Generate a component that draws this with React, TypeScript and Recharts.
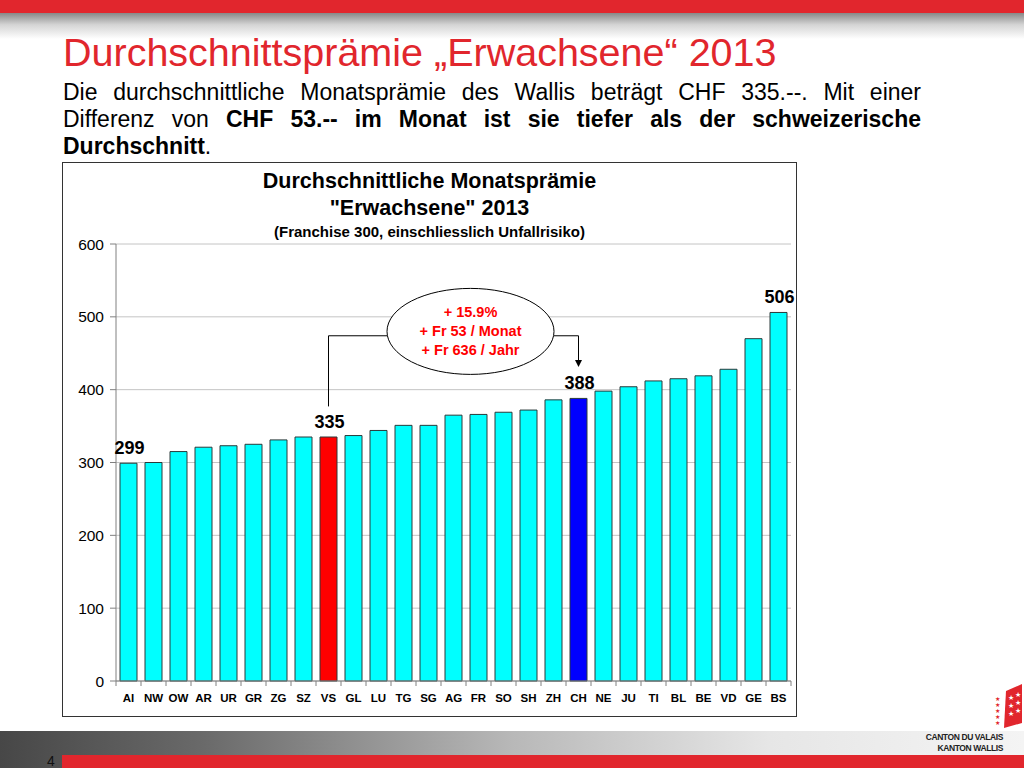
import React from "react";
import {
  BarChart,
  Bar,
  Cell,
  XAxis,
  YAxis,
  CartesianGrid,
  LabelList,
  ReferenceLine,
  ReferenceDot,
} from "recharts";

const cantons = [
  "AI", "NW", "OW", "AR", "UR", "GR", "ZG", "SZ", "VS", "GL", "LU", "TG", "SG", "AG",
  "FR", "SO", "SH", "ZH", "CH", "NE", "JU", "TI", "BL", "BE", "VD", "GE", "BS",
];
const premiums = [
  299, 300, 315, 321, 323, 325, 331, 335, 335, 337, 344, 351, 351, 365,
  366, 369, 372, 386, 388, 398, 404, 412, 415, 419, 428, 470, 506,
];
const yTicks = [0, 100, 200, 300, 400, 500, 600];
const labelledCantons = ["AI", "VS", "CH", "BS"];
const barColors: Record<string, string> = { VS: "#ff0000", CH: "#0000ff" };
const calloutLines = ["+ 15.9%", "+ Fr 53 / Monat", "+ Fr 636 / Jahr"];

const data = cantons.map((canton, i) => ({ canton, value: premiums[i] }));

const FONT = '"Liberation Sans", Arial, Helvetica, sans-serif';
const RED = "#e1262d";

const XTick = (props: any) => {
  const { x, y, payload, index } = props;
  const half = 12.5;
  return (
    <g>
      <line x1={x - half} y1={y} x2={x - half} y2={y + 5} stroke="#808080" />
      {index === cantons.length - 1 && (
        <line x1={x + half} y1={y} x2={x + half} y2={y + 5} stroke="#808080" />
      )}
      <text x={x} y={y + 21} textAnchor="middle" fontSize={11.5} fontWeight="bold" fill="#000" fontFamily={FONT}>
        {payload.value}
      </text>
    </g>
  );
};

const ValueLabel = (props: any) => {
  const { x, y, width, value, index } = props;
  if (!labelledCantons.includes(cantons[index])) return null;
  return (
    <text x={x + width / 2 + 1} y={y - 9} textAnchor="middle" fontSize={18} fontWeight="bold" fill="#000" fontFamily={FONT}>
      {value}
    </text>
  );
};

const Callout = (props: any) => {
  const { cx, cy } = props;
  const x = cx - 8;
  return (
    <g>
      <ellipse cx={x} cy={cy} rx={83.5} ry={43} fill="#fff" stroke="#000" strokeWidth={1} />
      {calloutLines.map((t, i) => (
        <text key={t} x={x} y={cy - 14 + i * 19} textAnchor="middle" fontSize={14.5} fontWeight="bold" fill="#ff0000" fontFamily={FONT}>
          {t}
        </text>
      ))}
    </g>
  );
};

const Arrow = (props: any) => {
  const { cx, cy } = props;
  return <polygon points={`${cx - 3.5},${cy - 7} ${cx + 3.5},${cy - 7} ${cx},${cy}`} fill="#000" />;
};

const Logo = () => (
  <svg width={104} height={80} style={{ position: "absolute", left: 920, top: 680 }}>
    <polygon points="86,11 102,4 102,43 84,48" fill={RED} />
    {[0, 1, 2].map((r) => (
      <g key={r}>
        <text x={91} y={20 + r * 8} fontSize={7} fill="#fff" textAnchor="middle">★</text>
        <text x={98} y={17 + r * 8} fontSize={7} fill="#fff" textAnchor="middle">★</text>
      </g>
    ))}
    {[0, 1, 2, 3, 4].map((r) => (
      <text key={r} x={77} y={21 + r * 6} fontSize={6} fill={RED} textAnchor="middle">★</text>
    ))}
    <text x={83} y={60} textAnchor="end" fontSize={8.5} fontWeight="bold" fill="#222" fontFamily={FONT} style={{ letterSpacing: -0.4 }}>
      CANTON DU VALAIS
    </text>
    <text x={83} y={71} textAnchor="end" fontSize={8.5} fontWeight="bold" fill="#222" fontFamily={FONT} style={{ letterSpacing: -0.4 }}>
      KANTON WALLIS
    </text>
  </svg>
);

export default function App() {
  const lineStyle: React.CSSProperties = {
    position: "absolute",
    left: 63,
    width: 858,
    fontSize: 23,
    lineHeight: "27px",
    color: "#000",
    whiteSpace: "nowrap",
  };
  return (
    <div
      style={{
        position: "absolute",
        left: 0,
        top: 0,
        width: 1024,
        height: 768,
        background: "#fff",
        overflow: "hidden",
        fontFamily: FONT,
      }}
    >
      <div style={{ position: "absolute", left: 0, top: 0, width: 1024, height: 13, background: RED }} />
      <div
        style={{
          position: "absolute",
          left: 0,
          top: 13,
          width: 1024,
          height: 26,
          background: "linear-gradient(to bottom, #888888, #d4d4d4 45%, #ffffff)",
        }}
      />
      <div style={{ position: "absolute", left: 63, top: 32, fontSize: 39.5, lineHeight: "40px", color: RED, whiteSpace: "nowrap" }}>
        Durchschnittsprämie „Erwachsene“ 2013
      </div>
      <div style={{ ...lineStyle, top: 79, textAlign: "justify", textAlignLast: "justify" }}>
        Die durchschnittliche Monatsprämie des Wallis beträgt CHF 335.--. Mit einer
      </div>
      <div style={{ ...lineStyle, top: 106, textAlign: "justify", textAlignLast: "justify" }}>
        Differenz von <b>CHF 53.-- im Monat ist sie tiefer als der schweizerische</b>
      </div>
      <div style={{ ...lineStyle, top: 133 }}>
        <b>Durchschnitt</b>.
      </div>

      <div
        style={{
          position: "absolute",
          left: 62,
          top: 162,
          width: 735,
          height: 555,
          boxSizing: "border-box",
          border: "1px solid #333",
          background: "#fff",
        }}
      >
        <div style={{ position: "absolute", left: 0, width: 733, top: 5, textAlign: "center", fontSize: 21.5, fontWeight: "bold", lineHeight: "27px" }}>
          Durchschnittliche Monatsprämie
          <br />
          "Erwachsene" 2013
        </div>
        <div style={{ position: "absolute", left: 0, width: 733, top: 60, textAlign: "center", fontSize: 15, fontWeight: "bold", lineHeight: "17px" }}>
          (Franchise 300, einschliesslich Unfallrisiko)
        </div>
        <BarChart
          width={733}
          height={553}
          data={data}
          margin={{ top: 81, right: 5, left: 0, bottom: 0 }}
          barSize={17}
        >
          <CartesianGrid vertical={false} stroke="#c4c4c4" />
          <XAxis
            dataKey="canton"
            interval={0}
            height={35}
            tickLine={false}
            tickSize={0}
            tickMargin={0}
            axisLine={{ stroke: "#808080" }}
            tick={<XTick />}
          />
          <YAxis
            width={53}
            domain={[0, 600]}
            ticks={yTicks}
            interval={0}
            tickSize={6}
            tickMargin={6}
            axisLine={{ stroke: "#808080" }}
            tickLine={{ stroke: "#808080" }}
            tick={{ fontSize: 15.5, fill: "#000", fontFamily: FONT }}
          />
          <Bar dataKey="value" stroke="#2a3a3a" strokeWidth={1} isAnimationActive={false}>
            {data.map((d) => (
              <Cell key={d.canton} fill={barColors[d.canton] ?? "#00ffff"} />
            ))}
            <LabelList dataKey="value" content={<ValueLabel />} />
          </Bar>
          <ReferenceLine segment={[{ x: "VS", y: 377 }, { x: "VS", y: 474 }]} stroke="#000" ifOverflow="visible" />
          <ReferenceLine segment={[{ x: "VS", y: 474 }, { x: "TG", y: 474 }]} stroke="#000" ifOverflow="visible" />
          <ReferenceLine segment={[{ x: "ZH", y: 474 }, { x: "CH", y: 474 }]} stroke="#000" ifOverflow="visible" />
          <ReferenceLine segment={[{ x: "CH", y: 474 }, { x: "CH", y: 436 }]} stroke="#000" ifOverflow="visible" />
          <ReferenceDot x="CH" y={431} r={4} shape={<Arrow />} ifOverflow="visible" />
          <ReferenceDot x="FR" y={480} r={40} shape={<Callout />} ifOverflow="visible" />
        </BarChart>
      </div>

      <div
        style={{
          position: "absolute",
          left: 0,
          top: 731,
          width: 1024,
          height: 37,
          background: "linear-gradient(to right, #474747 0%, #6a6a6a 20%, #b8b8b8 50%, #e6e6e6 75%, #f4f4f4 100%)",
        }}
      />
      <div style={{ position: "absolute", left: 62, top: 755, width: 962, height: 13, background: RED }} />
      <div style={{ position: "absolute", left: 47, top: 753, fontSize: 14, lineHeight: "16px", color: "#111" }}>4</div>
      <Logo />
    </div>
  );
}
